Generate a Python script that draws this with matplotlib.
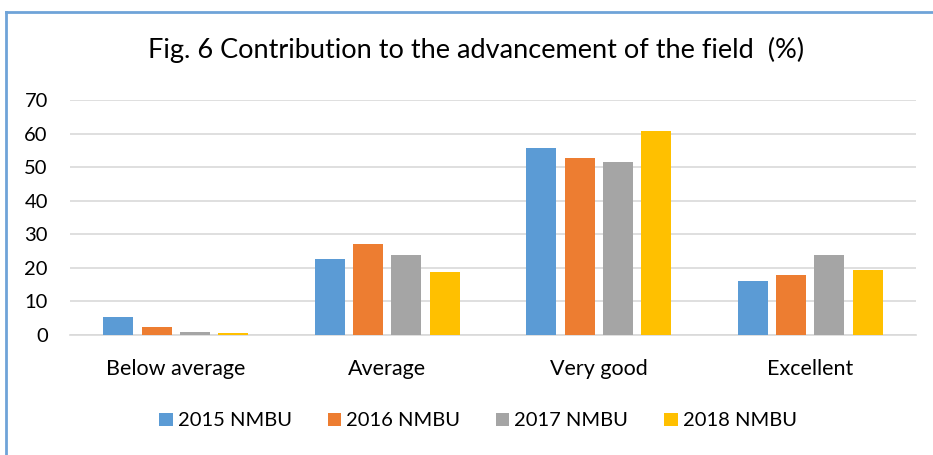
import numpy as np
import matplotlib.pyplot as plt
from matplotlib.lines import Line2D

plt.rcParams['font.family'] = ['Lato', 'DejaVu Sans']

# data
categories = ['Below average', 'Average', 'Very good', 'Excellent']
series_names = ['2015 NMBU', '2016 NMBU', '2017 NMBU', '2018 NMBU']
vals_2015 = [5.5, 22.7, 55.6, 16.0]
vals_2016 = [2.3, 27.0, 52.8, 18.0]
vals_2017 = [0.9, 23.7, 51.4, 23.7]
vals_2018 = [0.5, 18.9, 60.8, 19.5]
colors = ['#5B9BD5', '#ED7D31', '#A5A5A5', '#FFC000']

fig = plt.figure(figsize=(9.33, 4.55), dpi=100)
W, H = 933, 455
ax = fig.add_axes([70 / W, 1 - 335 / H, 846 / W, 235 / H])

x = np.arange(len(categories))
slot = 0.181
width = 0.142
for i, (vals, name, c) in enumerate(zip([vals_2015, vals_2016, vals_2017, vals_2018], series_names, colors)):
    ax.bar(x + (i - 1.5) * slot, vals, width, color=c, label=name, zorder=3)

ax.set_xlim(-0.5, 3.5)
ax.set_ylim(0, 70)
ax.set_yticks(range(0, 71, 10))
ax.yaxis.grid(True, color='#D9D9D9', linewidth=1.2, zorder=0)
ax.set_xticks(x)
ax.set_xticklabels(categories, fontsize=15.5)
ax.tick_params(axis='y', labelsize=14.5, length=0, pad=16)
ax.tick_params(axis='x', length=0, pad=17)
for s in ['top', 'right', 'left']:
    ax.spines[s].set_visible(False)
ax.spines['bottom'].set_color('#D9D9D9')
ax.spines['bottom'].set_linewidth(1.2)

fig.text(476 / W, 1 - 50 / H, 'Fig. 6 Contribution to the advancement of the field  (%)',
         ha='center', va='center', fontsize=19.5)

fig.legend(loc='center', bbox_to_anchor=(478 / W, 1 - 421 / H), ncol=4, frameon=False,
           fontsize=14.5, handlelength=0.65, handleheight=0.65, handletextpad=0.25,
           columnspacing=1.8)

# outer chart frame (left and top edges visible)
fig.add_artist(Line2D([6 / W, 6 / W], [0, 1 - 12 / H], transform=fig.transFigure,
                      color='#6FA3D8', linewidth=2))
fig.add_artist(Line2D([6 / W, 1], [1 - 12 / H, 1 - 12 / H], transform=fig.transFigure,
                      color='#6FA3D8', linewidth=2))

fig.savefig('out.png', dpi=100)
